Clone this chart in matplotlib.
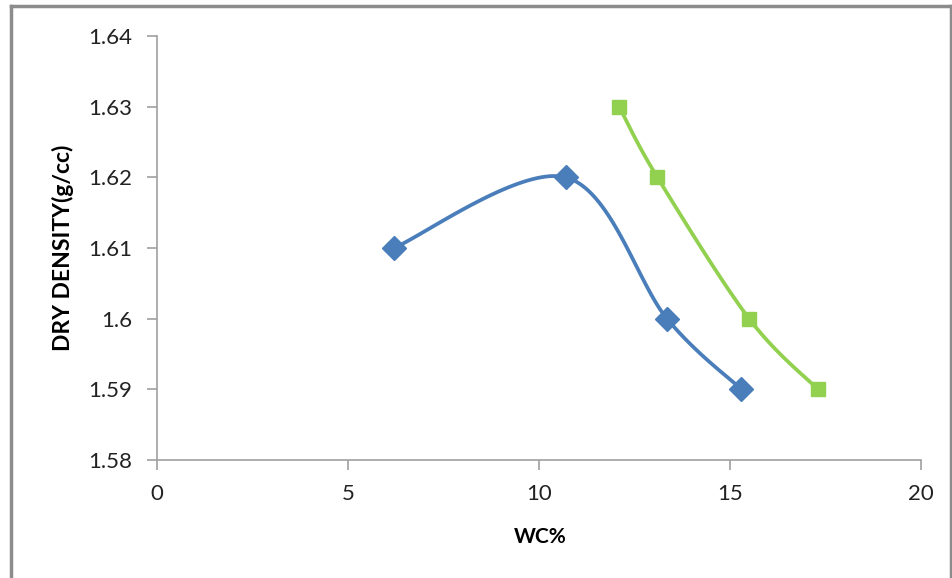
import numpy as np
import matplotlib.pyplot as plt
from matplotlib.lines import Line2D

# moisture content (%) vs dry density (g/cc)
wc_a = [6.2, 10.7, 13.35, 15.3]
dd_a = [1.61, 1.62, 1.60, 1.59]

wc_b = [12.1, 13.1, 15.5, 17.3]
dd_b = [1.63, 1.62, 1.60, 1.59]

x_ticks = [0, 5, 10, 15, 20]
y_ticks = [1.58, 1.59, 1.60, 1.61, 1.62, 1.63, 1.64]
y_labels = ['1.58', '1.59', '1.6', '1.61', '1.62', '1.63', '1.64']


def smooth(x, y, n=40):
    # Catmull-Rom style bezier segments through each point
    p = np.column_stack([x, y]).astype(float)
    p = np.vstack([p[0], p, p[-1]])
    out = []
    for i in range(1, len(p) - 2):
        p0, p1, p2, p3 = p[i - 1], p[i], p[i + 1], p[i + 2]
        c1 = p1 + (p2 - p0) / 6
        c2 = p2 - (p3 - p1) / 6
        t = np.linspace(0, 1, n)[:, None]
        seg = ((1 - t) ** 3 * p1 + 3 * (1 - t) ** 2 * t * c1
               + 3 * (1 - t) * t ** 2 * c2 + t ** 3 * p2)
        out.append(seg if i == 1 else seg[1:])
    seg = np.vstack(out)
    return seg[:, 0], seg[:, 1]


plt.rcParams['font.family'] = ['Lato', 'DejaVu Sans']

fig = plt.figure(figsize=(9.53, 5.78), dpi=100)
ax = fig.add_axes([0.1647, 0.2042, 0.8017, 0.7335])

blue = '#4A7EBB'
green = '#92D050'

sx, sy = smooth(wc_a, dd_a)
ax.plot(sx, sy, color=blue, lw=2.7, solid_capstyle='round')
ax.plot(wc_a, dd_a, 'D', color=blue, ms=12, mec=blue)

sx, sy = smooth(wc_b, dd_b)
ax.plot(sx, sy, color=green, lw=2.7, solid_capstyle='round')
ax.plot(wc_b, dd_b, 's', color=green, ms=9.5, mec=green)

ax.set_xlim(0, 20)
ax.set_ylim(1.58, 1.64)
ax.set_xticks(x_ticks)
ax.set_yticks(y_ticks)
ax.set_yticklabels(y_labels)

for s in ['top', 'right']:
    ax.spines[s].set_visible(False)
for s in ['left', 'bottom']:
    ax.spines[s].set_color('#A0A0A0')
    ax.spines[s].set_linewidth(1.2)
ax.tick_params(axis='both', color='#A0A0A0', width=1.2, length=7,
               labelsize=16, labelcolor='#222222')
ax.tick_params(axis='y', pad=11)
ax.tick_params(axis='x', pad=10)

ax.set_xlabel('WC%', fontsize=15, fontweight='bold', va='center')
ax.set_ylabel('DRY DENSITY(g/cc)', fontsize=16.5, fontweight='bold', va='center')
ax.xaxis.set_label_coords(0.501, -0.182)
ax.yaxis.set_label_coords(-0.123, 0.5)

# outer chart border
border = dict(color='#8C8C8C', lw=2.5, transform=fig.transFigure)
fig.add_artist(Line2D([0.0115, 0.0115], [0, 0.99], **border))
fig.add_artist(Line2D([0.0115, 0.998], [0.99, 0.99], **border))
fig.add_artist(Line2D([0.998, 0.998], [0, 0.99], **border))

fig.savefig('out.png', dpi=100)
